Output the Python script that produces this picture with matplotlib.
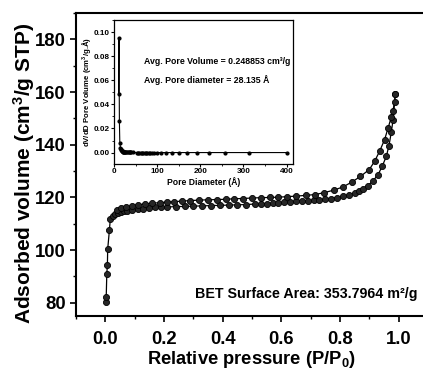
import matplotlib
matplotlib.use('Agg')
import matplotlib.pyplot as plt
from matplotlib.ticker import MultipleLocator

plt.rcParams['font.family'] = ['Liberation Sans', 'DejaVu Sans']
plt.rcParams['font.weight'] = 'bold'
plt.rcParams['mathtext.fontset'] = 'custom'
plt.rcParams['mathtext.rm'] = 'Liberation Sans:bold'
plt.rcParams['mathtext.it'] = 'Liberation Sans:bold'
plt.rcParams['mathtext.bf'] = 'Liberation Sans:bold'

# Isotherma - rama de adsorcion (inferior)
ads_p = [0.002, 0.003, 0.005, 0.007, 0.008, 0.014, 0.017, 0.025, 0.033, 0.042,
         0.052, 0.063, 0.075, 0.09, 0.11, 0.13, 0.15, 0.17, 0.19, 0.21,
         0.24, 0.27, 0.30, 0.33, 0.36, 0.39, 0.42, 0.45, 0.48, 0.51,
         0.53, 0.55, 0.57, 0.59, 0.61, 0.63, 0.65, 0.67, 0.69, 0.71,
         0.73, 0.75, 0.77, 0.79, 0.81, 0.83, 0.85, 0.865, 0.878, 0.895,
         0.912, 0.93, 0.944, 0.958, 0.967, 0.975, 0.981, 0.989]
ads_v = [80.3, 82.3, 91.0, 94.3, 100.3, 107.8, 111.9, 113.0, 113.8, 114.2,
         114.5, 114.8, 115.0, 115.3, 115.6, 115.8, 116.0, 116.2, 116.3, 116.4,
         116.5, 116.6, 116.7, 116.8, 116.9, 117.0, 117.1, 117.2, 117.3, 117.5,
         117.6, 117.7, 117.8, 118.0, 118.1, 118.3, 118.5, 118.6, 118.8, 118.9,
         119.1, 119.3, 119.6, 119.9, 120.4, 121.0, 121.7, 122.5, 123.3, 124.5,
         126.2, 128.7, 131.8, 135.6, 139.6, 144.7, 149.4, 159.4]

# Isotherma - rama de desorcion (superior)
des_p = [0.04, 0.055, 0.07, 0.09, 0.11, 0.135, 0.16, 0.185, 0.21, 0.235,
         0.26, 0.29, 0.32, 0.35, 0.38, 0.41, 0.44, 0.47, 0.50, 0.53,
         0.56, 0.59, 0.62, 0.65, 0.685, 0.715, 0.745, 0.78, 0.81, 0.84,
         0.87, 0.90, 0.918, 0.935, 0.952, 0.964, 0.975, 0.981, 0.986, 0.989]
des_v = [115.3, 116.0, 116.4, 116.8, 117.2, 117.5, 117.8, 118.0, 118.2, 118.4,
         118.6, 118.8, 119.0, 119.1, 119.2, 119.3, 119.5, 119.6, 119.8, 119.9,
         120.0, 120.1, 120.3, 120.5, 120.8, 121.1, 121.8, 122.8, 124.0, 125.8,
         128.0, 130.6, 133.7, 137.5, 141.9, 146.3, 150.5, 153.0, 156.3, 159.4]

# Distribucion de poros (BJH)
pore_d = [10.5, 11.5, 12.5, 13.5, 15, 16, 17, 18, 19, 20, 21, 22, 23, 24,
          25, 26, 28, 30, 32, 34, 36, 38, 40, 43, 53, 56, 59, 62, 65, 68,
          71, 74, 77, 80, 84, 88, 92, 100, 110, 121, 134, 150, 169, 193,
          221, 258, 312, 400]
pore_v = [0.049, 0.095, 0.026, 0.008, 0.004, 0.003, 0.002, 0.0015, 0.001, 0.001,
          0.0008, 0.0006, 0.0005, 0.0004, 0.0003, 0.0003, 0.0002, 0.0002, 0.0001,
          0.0001, 0.0001, 0.0001, 0.0001, 0.0001, 0.0, 0.0, 0.0, 0.0, 0.0, 0.0,
          0.0, 0.0, 0.0, 0.0, 0.0, 0.0, 0.0, 0.0, 0.0, 0.0, 0.0, 0.0, 0.0, 0.0,
          0.0, 0.0, 0.0, 0.0]

fig = plt.figure(figsize=(4.23, 3.72), dpi=100)
ax = fig.add_axes([0.1797, 0.1505, 0.832, 0.8145])

estilo = dict(color='black', lw=0.9, marker='o', markersize=4.4,
              markerfacecolor='#262626', markeredgecolor='black', markeredgewidth=0.6)
ax.plot(ads_p, ads_v, **estilo)
ax.plot(des_p, des_v, **estilo)

ax.set_xlim(-0.1, 1.1)
ax.set_ylim(75, 190)
ax.xaxis.set_minor_locator(MultipleLocator(0.1))
ax.yaxis.set_minor_locator(MultipleLocator(10))
ax.set_xticks([0.0, 0.2, 0.4, 0.6, 0.8, 1.0])
ax.set_yticks([80, 100, 120, 140, 160, 180])
ax.tick_params(axis='x', which='major', pad=6)
ax.tick_params(which='major', direction='out', length=4.5, width=1.2, labelsize=13.3)
ax.tick_params(axis='y', which='major', pad=3)
ax.tick_params(which='minor', direction='out', length=2.5, width=1.0)
for s in ax.spines.values():
    s.set_linewidth(1.5)
ax.set_xlabel('Relative pressure (P/P$_0$)', fontsize=13.2, fontweight='bold')
ax.set_ylabel('Adsorbed volume (cm$^3$/g STP)', fontsize=15, fontweight='bold')
ax.xaxis.set_label_coords(0.5, -0.11)
ax.yaxis.set_label_coords(-0.112, 0.47)
ax.text(0.307, 83.5, 'BET Surface Area: 353.7964 m²/g', fontsize=10.3, fontweight='bold',
        ha='left', va='center')

# Inset
ins = fig.add_axes([0.2695, 0.5591, 0.4232, 0.3871])
ins.plot(pore_d, pore_v, color='black', lw=0.8, marker='o', markersize=2.0,
         markerfacecolor='black', markeredgecolor='black')
ins.set_xlim(0, 415)
ins.set_ylim(-0.0095, 0.11)
ins.xaxis.set_major_locator(MultipleLocator(100))
ins.xaxis.set_minor_locator(MultipleLocator(50))
ins.yaxis.set_minor_locator(MultipleLocator(0.01))
ins.set_yticks([0.0, 0.02, 0.04, 0.06, 0.08, 0.10])
ins.set_yticklabels(['0.00', '0.02', '0.04', '0.06', '0.08', '0.10'])
ins.tick_params(which='major', direction='out', length=2.2, width=0.8, labelsize=5.9, pad=1)
ins.tick_params(which='minor', direction='out', length=1.4, width=0.6)
for s in ins.spines.values():
    s.set_linewidth(0.9)
ins.set_xlabel('Pore Diameter (Å)', fontsize=6.2, fontweight='bold', labelpad=1.5)
ins.set_ylabel('dV/dD Pore Volume (cm$^3$/g.Å)', fontsize=5.6, fontweight='bold', labelpad=0.5)
ins.text(70, 0.0755, 'Avg. Pore Volume = 0.248853 cm³/g', fontsize=6.3, fontweight='bold',
         ha='left', va='center')
ins.text(70, 0.0605, 'Avg. Pore diameter = 28.135 Å', fontsize=6.3, fontweight='bold',
         ha='left', va='center')

fig.savefig('out.png', dpi=100)
